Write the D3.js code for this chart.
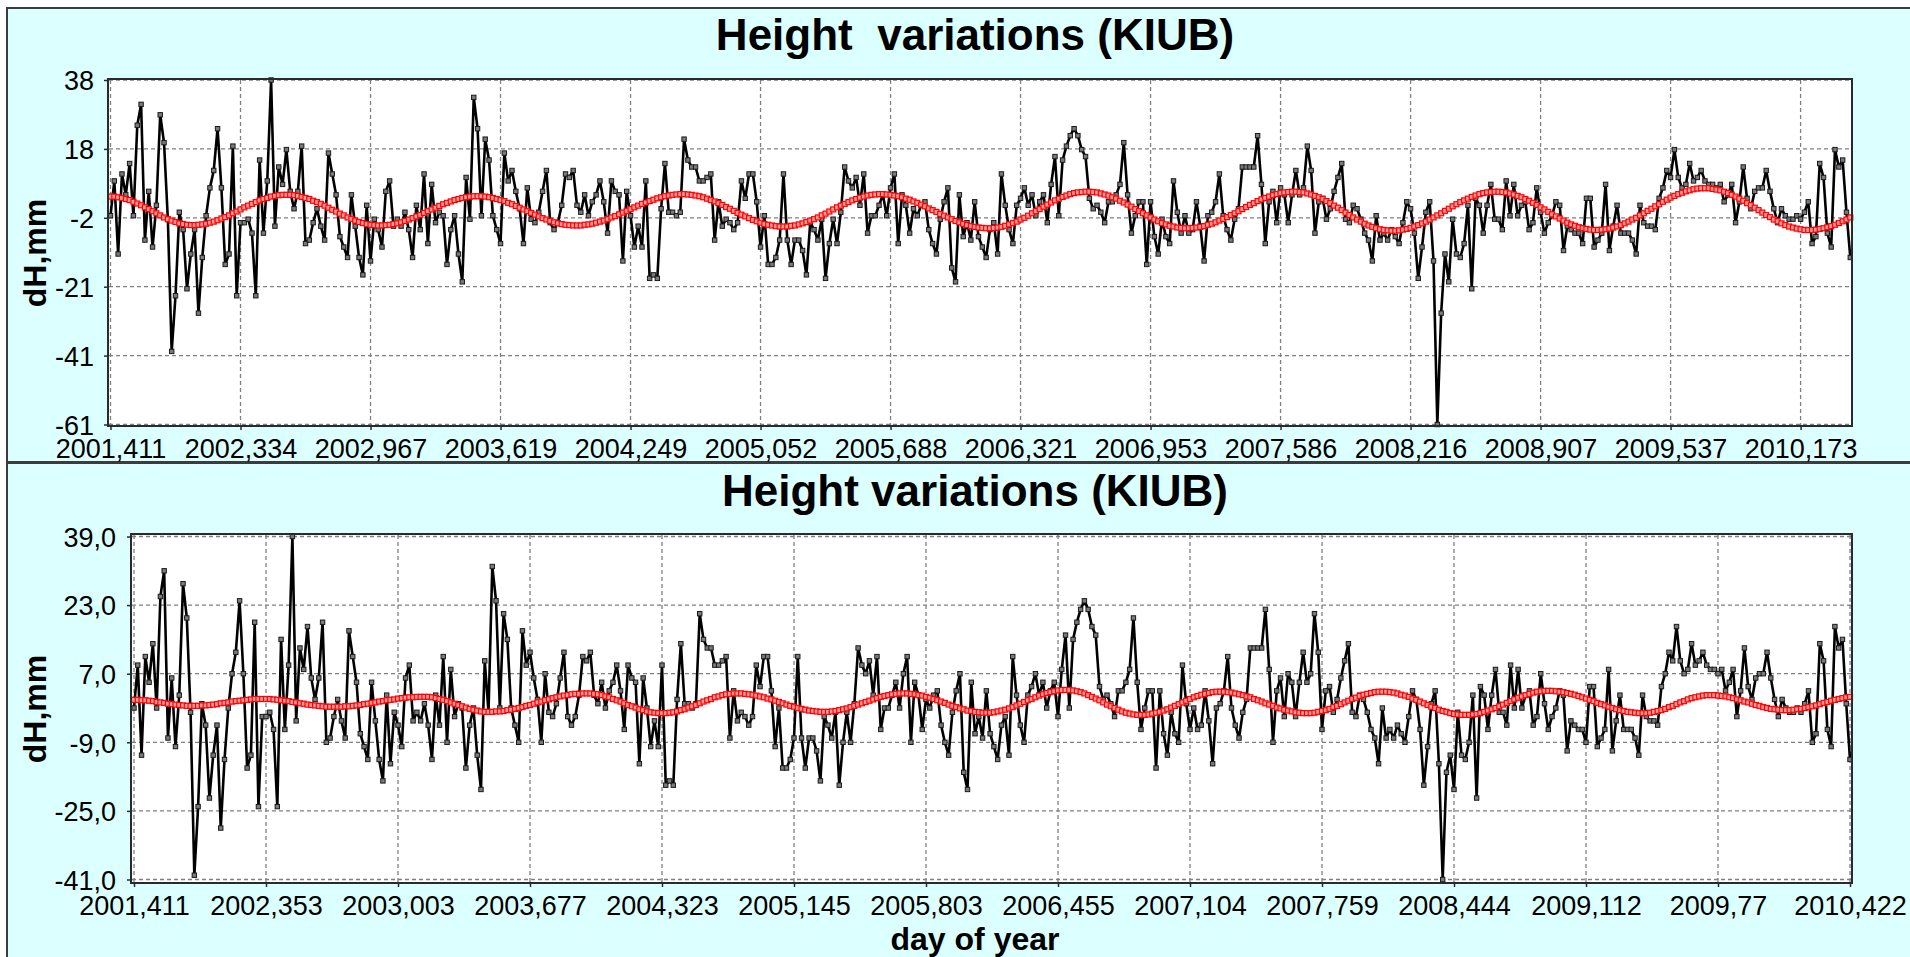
<!DOCTYPE html>
<html><head><meta charset="utf-8">
<script src="https://cdn.jsdelivr.net/npm/d3@7"></script>
<style>
html,body{margin:0;padding:0;background:#ffffff;}
svg{display:block;}
text{font-family:"Liberation Sans",Arial,sans-serif;}
</style></head><body>
<svg id="chart" width="1910" height="957"></svg>
<script>
// ---------- DATA ----------
const topValues = [
-1,9,-12,11,5,14,-1,25,31,-8,6,-10,2,28,20,-2,-40,-24,0,-5,
-22,-12,-5,-29,-13,-1,7,12,24,7,-15,-12,19,-24,-3,-3,-2,-6,-24,15,
-6,9,38,-4,13,8,18,6,1,6,19,-9,-8,-3,1,-4,-8,17,11,5,
-7,-10,-13,5,-4,-13,-18,2,-14,-2,-5,-10,6,9,-4,-2,-4,0,-5,-13,
2,-5,11,-9,8,-3,0,-1,-15,-5,-1,-12,-20,10,-2,33,24,-1,21,15,
-1,-5,-9,17,9,12,6,1,-9,7,-2,-3,0,6,12,-3,-5,-3,2,11,
10,12,2,0,5,-1,3,5,9,3,-6,9,6,5,-14,6,-1,-10,-4,-10,
9,-19,-18,-19,1,14,0,0,-1,0,21,15,13,13,9,9,10,11,-8,3,
-4,-2,-3,-5,-3,9,4,11,11,3,-10,-1,-15,-15,-13,-8,11,-8,-15,-8,
-8,-11,-18,-3,-5,-8,-2,-19,-9,-2,-9,0,13,9,7,10,2,11,-6,-1,
-1,2,5,-1,7,11,-9,5,2,-6,1,-1,2,3,-5,-9,-12,-2,3,7,
-16,-20,5,-7,-3,-8,3,-7,-10,-13,-5,-3,-12,11,2,-5,-9,2,4,7,
2,5,-1,3,5,-3,8,16,-1,15,19,22,24,22,18,16,4,1,2,0,
-3,3,3,5,8,20,5,-6,-1,3,3,-15,3,-7,-12,-2,-7,-9,9,0,
-6,-1,-6,-5,3,-4,-14,-1,0,3,11,-1,-5,-8,-2,1,13,13,13,13,
22,8,-9,3,6,-3,7,5,-3,5,12,5,7,19,12,-6,3,4,-2,1,
6,10,14,-2,-3,2,1,-2,-6,-8,-14,-1,-8,-6,-8,-5,-7,-9,-3,3,
1,-6,-19,-10,0,3,-14,-61,-29,-12,-20,-2,-12,-13,-9,2,-22,4,2,-6,
2,8,-2,-2,-5,9,-1,8,-1,2,3,-5,-3,7,0,-6,-3,-1,3,2,
-11,-4,-5,-6,-6,-9,4,4,-10,-8,-6,8,-11,-4,2,-6,-6,-6,-8,-12,
2,-3,-4,-4,-5,4,7,12,10,18,10,7,8,14,9,10,12,9,8,8,
7,8,3,5,8,-3,3,13,4,1,6,7,7,12,6,1,-3,1,-1,-2,
-2,-1,-2,0,3,-9,-7,14,10,-6,-10,18,13,15,0,-13
];
const topFit = [
4.5,4.5,4.3,4.1,3.8,3.5,3.0,2.5,2.0,1.4,0.9,0.3,-0.3,-0.9,-1.5,-2.0,-2.4,-2.8,-3.2,-3.4,-3.6,-3.7,
-3.7,-3.6,-3.5,-3.3,-3.0,-2.7,-2.3,-1.8,-1.4,-0.9,-0.3,0.2,0.8,1.4,1.9,2.4,2.9,3.4,3.8,4.1,4.5,4.7,4.9,5.0,5.0,
5.0,4.9,4.7,4.4,4.1,3.8,3.3,2.9,2.4,1.9,1.3,0.7,0.2,-0.4,-0.9,-1.5,-1.9,-2.4,-2.8,-3.1,-3.4,-3.6,-3.7,-3.8,
-3.8,-3.7,-3.6,-3.4,-3.2,-2.9,-2.5,-2.1,-1.7,-1.2,-0.8,-0.2,0.3,0.8,1.3,1.8,2.3,2.7,3.1,3.5,3.8,4.1,4.3,4.5,4.6,4.6,
4.6,4.5,4.3,4.1,3.8,3.5,3.2,2.7,2.3,1.8,1.3,0.8,0.3,-0.2,-0.7,-1.2,-1.7,-2.1,-2.5,-2.9,-3.2,-3.4,-3.6,-3.7,-3.8,
-3.8,-3.8,-3.6,-3.5,-3.3,-3.0,-2.7,-2.4,-2.0,-1.5,-1.1,-0.6,-0.1,0.4,0.9,1.4,1.9,2.4,2.8,3.2,3.6,4.0,4.3,4.6,4.8,5.0,5.1,5.2,
5.2,5.1,5.0,4.8,4.6,4.3,3.9,3.5,3.1,2.6,2.1,1.5,1.0,0.4,-0.2,-0.7,-1.2,-1.7,-2.2,-2.6,-3.0,-3.4,-3.6,-3.8,-4.0,-4.1,
-4.1,-4.1,-3.9,-3.8,-3.5,-3.2,-2.8,-2.4,-2.0,-1.5,-0.9,-0.4,0.2,0.8,1.4,1.9,2.4,2.9,3.4,3.8,4.2,4.5,4.8,5.0,5.1,5.2,
5.2,5.1,5.0,4.8,4.6,4.3,3.9,3.6,3.1,2.7,2.2,1.7,1.1,0.6,0.1,-0.5,-1.0,-1.5,-2.0,-2.5,-2.9,-3.3,-3.7,-4.0,-4.2,-4.4,-4.5,-4.6,
-4.6,-4.5,-4.4,-4.2,-3.9,-3.5,-3.1,-2.7,-2.1,-1.6,-1.0,-0.3,0.3,0.9,1.6,2.2,2.8,3.4,3.9,4.4,4.8,5.2,5.5,5.7,5.8,5.9,
5.9,5.8,5.7,5.4,5.1,4.8,4.3,3.9,3.3,2.8,2.2,1.6,0.9,0.3,-0.3,-0.9,-1.5,-2.1,-2.6,-3.1,-3.5,-3.9,-4.1,-4.4,-4.5,-4.6,
-4.6,-4.5,-4.4,-4.2,-4.0,-3.6,-3.3,-2.9,-2.4,-1.9,-1.4,-0.8,-0.3,0.3,0.9,1.5,2.1,2.6,3.2,3.7,4.1,4.5,4.9,5.2,5.5,5.7,5.8,5.9,
5.9,5.8,5.7,5.4,5.1,4.7,4.3,3.8,3.2,2.6,1.9,1.3,0.6,-0.1,-0.8,-1.5,-2.1,-2.7,-3.3,-3.8,-4.2,-4.6,-4.9,-5.1,-5.2,-5.3,
-5.3,-5.2,-5.0,-4.8,-4.5,-4.1,-3.7,-3.2,-2.7,-2.1,-1.5,-0.9,-0.3,0.4,1.0,1.7,2.3,2.9,3.4,3.9,4.4,4.8,5.2,5.5,5.7,5.8,5.9,
5.9,5.8,5.7,5.4,5.1,4.7,4.3,3.8,3.3,2.7,2.1,1.4,0.8,0.1,-0.6,-1.2,-1.8,-2.4,-3.0,-3.5,-3.9,-4.3,-4.6,-4.8,-5.0,-5.1,
-5.1,-5.0,-4.9,-4.7,-4.4,-4.1,-3.7,-3.2,-2.7,-2.1,-1.6,-0.9,-0.3,0.4,1.0,1.7,2.3,3.0,3.6,4.2,4.7,5.2,5.6,6.0,6.3,6.6,6.8,6.9,6.9,
6.9,6.7,6.5,6.3,5.9,5.5,5.0,4.5,3.9,3.3,2.6,2.0,1.3,0.6,-0.1,-0.8,-1.4,-2.1,-2.6,-3.2,-3.7,-4.1,-4.4,-4.7,-4.9,-5.1,-5.1,
-5.1,-5.0,-4.8,-4.6,-4.3,-4.0,-3.6,-3.1,-2.6,-2.1,-1.5
];
const bottomValues = [
-1,9,-12,11,5,14,-1,25,31,-8,6,-10,2,28,20,-2,-40,-24,0,-5,
-22,-12,-5,-29,-13,-1,7,12,24,7,-15,-12,19,-24,-3,-3,-2,-6,-24,15,
-6,9,39,-4,13,8,18,6,1,6,19,-9,-8,-3,1,-4,-8,17,11,5,
-7,-10,-13,5,-4,-13,-18,2,-14,-2,-5,-10,6,9,-4,-2,-4,0,-5,-13,
2,-5,11,-9,8,-3,0,-1,-15,-5,-1,-12,-20,10,-2,32,24,-1,21,15,
-1,-5,-9,17,9,12,6,1,-9,7,-2,-3,0,6,12,-3,-5,-3,2,11,
10,12,2,0,5,-1,3,5,9,3,-6,9,6,5,-14,6,-1,-10,-4,-10,
9,-19,-18,-19,1,14,0,0,-1,0,21,15,13,13,9,9,10,11,-8,3,
-4,-2,-3,-5,-3,9,4,11,11,3,-10,-1,-15,-15,-13,-8,11,-8,-15,-8,
-8,-11,-18,-3,-5,-8,-2,-19,-9,-2,-9,0,13,9,7,10,2,11,-6,-1,
-1,2,5,-1,7,11,-9,5,2,-6,1,-1,2,3,-5,-9,-12,-2,3,7,
-16,-20,5,-7,-3,-8,3,-7,-10,-13,-5,-3,-12,11,2,-5,-9,2,4,7,
2,5,-1,3,5,-3,8,16,-1,15,19,22,24,22,18,16,4,1,2,0,
-3,3,3,5,8,20,5,-6,-1,3,3,-15,3,-7,-12,-2,-7,-9,9,0,
-6,-1,-6,-5,3,-4,-14,-1,0,3,11,-1,-5,-8,-2,1,13,13,13,13,
22,8,-9,3,6,-3,7,5,-3,5,12,5,7,21,12,-6,3,4,-2,1,
6,10,14,-2,-3,2,1,-2,-6,-8,-14,-1,-8,-6,-8,-5,-7,-9,-3,3,
1,-6,-19,-10,0,3,-14,-41,-16,-12,-20,-2,-12,-13,-9,2,-22,4,2,-6,
2,8,-2,-2,-5,9,-1,8,-1,2,3,-5,-3,7,0,-6,-3,-1,3,2,
-11,-4,-5,-6,-6,-9,4,4,-10,-8,-6,8,-11,-4,2,-6,-6,-6,-8,-12,
2,-3,-4,-4,-5,4,7,12,10,18,10,7,8,14,9,10,12,9,8,8,
7,8,3,5,8,-3,3,13,4,1,6,7,7,12,6,1,-3,1,-1,-2,
-2,-1,-2,0,3,-9,-7,14,10,-6,-10,18,13,15,0,-13
];
const bottomFit = [
0.9,0.9,0.8,0.8,0.7,0.6,0.4,0.3,0.2,0.0,-0.1,-0.2,-0.3,-0.4,-0.5,-0.5,
-0.5,-0.5,-0.4,-0.4,-0.3,-0.2,-0.1,0.1,0.2,0.3,0.5,0.6,0.7,0.8,0.9,1.0,1.1,1.1,1.1,
1.1,1.1,1.0,0.9,0.8,0.7,0.6,0.4,0.3,0.1,0.0,-0.2,-0.3,-0.4,-0.5,-0.6,-0.7,-0.7,-0.7,
-0.7,-0.7,-0.6,-0.6,-0.5,-0.4,-0.3,-0.1,0.0,0.2,0.3,0.5,0.6,0.8,0.9,1.0,1.2,1.3,1.4,1.5,1.5,1.6,1.6,1.6,
1.6,1.5,1.3,1.1,0.9,0.6,0.3,0.0,-0.3,-0.6,-0.9,-1.2,-1.4,-1.6,-1.8,-1.9,-1.9,
-1.9,-1.8,-1.8,-1.7,-1.5,-1.4,-1.2,-1.0,-0.8,-0.5,-0.3,0.0,0.3,0.5,0.8,1.0,1.3,1.5,1.7,1.9,2.0,2.2,2.3,2.3,2.4,2.4,
2.4,2.3,2.2,2.0,1.7,1.5,1.1,0.8,0.5,0.1,-0.3,-0.6,-0.9,-1.3,-1.5,-1.8,-2.0,-2.1,-2.2,-2.2,
-2.2,-2.1,-2.0,-1.8,-1.5,-1.3,-0.9,-0.6,-0.3,0.1,0.5,0.8,1.1,1.5,1.7,2.0,2.2,2.3,2.4,2.4,
2.4,2.3,2.2,2.1,1.9,1.7,1.5,1.2,1.0,0.7,0.4,0.1,-0.2,-0.5,-0.7,-1.0,-1.2,-1.4,-1.6,-1.7,-1.8,-1.9,-1.9,
-1.9,-1.8,-1.7,-1.5,-1.3,-1.1,-0.8,-0.5,-0.2,0.1,0.4,0.7,1.0,1.3,1.6,1.8,2.0,2.2,2.3,2.4,2.4,
2.4,2.3,2.2,2.0,1.9,1.6,1.4,1.1,0.8,0.5,0.2,-0.2,-0.5,-0.8,-1.1,-1.3,-1.6,-1.7,-1.9,-2.0,-2.1,-2.1,
-2.1,-2.0,-1.8,-1.6,-1.4,-1.1,-0.8,-0.4,0.0,0.4,0.8,1.1,1.5,1.9,2.2,2.5,2.7,2.9,3.1,3.2,3.2,
3.2,3.1,2.9,2.7,2.4,2.0,1.6,1.2,0.8,0.3,-0.2,-0.6,-1.0,-1.4,-1.8,-2.1,-2.3,-2.5,-2.6,-2.6,
-2.6,-2.5,-2.3,-2.1,-1.9,-1.6,-1.3,-0.9,-0.5,-0.1,0.3,0.7,1.1,1.5,1.8,2.1,2.3,2.5,2.7,2.8,2.8,
2.8,2.7,2.6,2.4,2.2,2.0,1.7,1.5,1.1,0.8,0.5,0.1,-0.2,-0.5,-0.9,-1.1,-1.4,-1.6,-1.8,-2.0,-2.1,-2.2,-2.2,
-2.2,-2.1,-1.9,-1.7,-1.5,-1.2,-0.8,-0.5,-0.1,0.3,0.7,1.1,1.4,1.8,2.1,2.3,2.5,2.7,2.8,2.8,
2.8,2.7,2.6,2.4,2.1,1.9,1.6,1.2,0.9,0.5,0.1,-0.3,-0.7,-1.0,-1.4,-1.7,-1.9,-2.2,-2.4,-2.5,-2.6,-2.6,
-2.6,-2.5,-2.4,-2.2,-1.9,-1.6,-1.3,-1.0,-0.6,-0.2,0.2,0.6,1.0,1.4,1.7,2.0,2.3,2.6,2.8,2.9,3.0,3.0,
3.0,2.9,2.8,2.7,2.5,2.3,2.1,1.8,1.5,1.2,0.9,0.6,0.2,-0.1,-0.4,-0.7,-1.0,-1.3,-1.5,-1.7,-1.9,-2.0,-2.1,-2.2,-2.2,
-2.2,-2.1,-1.9,-1.7,-1.5,-1.2,-0.8,-0.5,-0.1,0.3,0.6,1.0,1.3,1.5,1.7,1.9,2.0,2.0,
2.0,1.9,1.8,1.7,1.5,1.3,1.0,0.8,0.5,0.3,0.0,-0.3,-0.5,-0.8,-1.0,-1.2,-1.3,-1.4,-1.5,-1.5,
-1.5,-1.4,-1.3,-1.2,-1.0,-0.8,-0.6,-0.4,-0.1,0.2,0.4,0.7,0.9,1.1,1.3,1.5,1.6
];
const topXTickIndex = [0,34,68,102,136,170,204,238,272,306,340,374,408,442];
const topXTickLabels = ["2001,411","2002,334","2002,967","2003,619","2004,249","2005,052","2005,688","2006,321","2006,953","2007,586","2008,216","2008,907","2009,537","2010,173"];
const bottomXTickIndex = [0,35,70,105,140,175,210,245,280,315,350,385,420,455];
const bottomXTickLabels = ["2001,411","2002,353","2003,003","2003,677","2004,323","2005,145","2005,803","2006,455","2007,104","2007,759","2008,444","2009,112","2009,77","2010,422"];
const topYTickLabels = ["-61","-41","-21","-2","18","38"];
const bottomYTickLabels = ["-41,0","-25,0","-9,0","7,0","23,0","39,0"];
const titleTop = "Height  variations (KIUB)";
const titleBottom = "Height variations (KIUB)";
const yAxisTitle = "dH,mm";
const xAxisTitle = "day of year";

// ---------- DRAWING ----------
const svg = d3.select("#chart");
const panelFill = "#dcffff";

svg.append("rect").attr("x", 7).attr("y", 8).attr("width", 1920).attr("height", 454)
  .attr("fill", panelFill).attr("stroke", "#3c3c3c").attr("stroke-width", 2);
svg.append("rect").attr("x", 7).attr("y", 463).attr("width", 1920).attr("height", 520)
  .attr("fill", panelFill).attr("stroke", "#3c3c3c").attr("stroke-width", 2);

function drawPanel(cfg) {
  const g = svg.append("g");
  const f = cfg.frame;
  const n = cfg.values.length;
  const x = d3.scaleLinear().domain([0, n - 1]).range(cfg.xRange);
  const ext = d3.extent(cfg.values);
  const y = d3.scaleLinear().domain(ext).range(cfg.yRange);
  const yTicks = d3.range(cfg.yLabels.length).map(k => ext[0] + k * (ext[1] - ext[0]) / (cfg.yLabels.length - 1));

  g.append("rect").attr("x", f.x0).attr("y", f.y0).attr("width", f.x1 - f.x0).attr("height", f.y1 - f.y0)
    .attr("fill", "#ffffff");

  // grid
  const grid = g.append("g").attr("stroke", "#808080").attr("stroke-width", 1.3).attr("stroke-dasharray", "4,3");
  grid.selectAll("line.h").data(yTicks).join("line").attr("class", "h")
    .attr("x1", f.x0 + 1).attr("x2", f.x1 - 1).attr("y1", d => y(d)).attr("y2", d => y(d));
  grid.selectAll("line.v").data(cfg.xTicks).join("line").attr("class", "v")
    .attr("y1", f.y0 + 1).attr("y2", f.y1 - 1).attr("x1", d => x(d)).attr("x2", d => x(d));

  // black series
  const line = d3.line().x((d, i) => x(i)).y(d => y(d));
  g.append("path").datum(cfg.values).attr("d", line).attr("fill", "none")
    .attr("stroke", "#000").attr("stroke-width", 2.6).attr("stroke-linejoin", "round");
  g.append("g").selectAll("rect").data(cfg.values).join("rect")
    .attr("x", (d, i) => x(i) - 2.2).attr("y", d => y(d) - 2.2).attr("width", 4.4).attr("height", 4.4)
    .attr("fill", "#7a7a7a").attr("stroke", "#1a1a1a").attr("stroke-width", 1);

  // red fit
  g.append("path").datum(cfg.fit).attr("d", line).attr("fill", "none")
    .attr("stroke", "#ff0000").attr("stroke-width", 2.2);
  g.append("g").selectAll("rect").data(cfg.fit).join("rect")
    .attr("x", (d, i) => x(i) - 2.5).attr("y", d => y(d) - 2.5).attr("width", 5).attr("height", 5)
    .attr("fill", "#ff9a9a").attr("stroke", "#ff0000").attr("stroke-width", 1.2);

  // frame
  g.append("rect").attr("x", f.x0).attr("y", f.y0).attr("width", f.x1 - f.x0).attr("height", f.y1 - f.y0)
    .attr("fill", "none").attr("stroke", "#2a2a2a").attr("stroke-width", 2);

  // axes
  const yAxis = d3.axisLeft(y).tickValues(yTicks).tickFormat((d, i) => cfg.yLabels[i])
    .tickSize(4).tickPadding(cfg.yPad);
  const ya = g.append("g").attr("transform", `translate(${f.x0},0)`).call(yAxis);
  const xAxis = d3.axisBottom(x).tickValues(cfg.xTicks).tickFormat((d, i) => cfg.xLabels[i])
    .tickSize(4).tickPadding(9.5);
  const xa = g.append("g").attr("transform", `translate(0,${f.y1})`).call(xAxis);
  [ya, xa].forEach(a => {
    a.select(".domain").remove();
    a.selectAll(".tick line").attr("stroke", "#2a2a2a").attr("stroke-width", 1.5);
    a.selectAll(".tick text").attr("fill", "#000").style("font-size", "27px")
      .style("font-family", '"Liberation Sans", Arial, sans-serif');
  });
  ya.selectAll(".tick text").attr("dy", "0.36em");
  xa.selectAll(".tick text").attr("dy", "0.68em");

  // titles
  g.append("text").attr("x", 975).attr("y", cfg.titleY).attr("text-anchor", "middle")
    .style("font-size", "44px").style("font-weight", "bold").style("white-space", "pre")
    .text(cfg.title);
  g.append("text").attr("transform", `translate(46,${cfg.yTitleY}) rotate(-90)`).attr("text-anchor", "middle")
    .style("font-size", "32px").style("font-weight", "bold").text(yAxisTitle);
  if (cfg.xTitle) {
    g.append("text").attr("x", 975).attr("y", 950).attr("text-anchor", "middle")
      .style("font-size", "32px").style("font-weight", "bold").text(cfg.xTitle);
  }
}

drawPanel({
  values: topValues, fit: topFit,
  frame: {x0: 108, y0: 79, x1: 1852, y1: 426},
  xRange: [110.5, 1850.3], yRange: [424.5, 80],
  xTicks: topXTickIndex, xLabels: topXTickLabels, yLabels: topYTickLabels,
  yPad: 10, title: titleTop, titleY: 50, yTitleY: 253
});
drawPanel({
  values: bottomValues, fit: bottomFit,
  frame: {x0: 131, y0: 534, x1: 1852, y1: 883},
  xRange: [134, 1850], yRange: [879.5, 536.5],
  xTicks: bottomXTickIndex, xLabels: bottomXTickLabels, yLabels: bottomYTickLabels,
  yPad: 11, title: titleBottom, titleY: 506, yTitleY: 709, xTitle: xAxisTitle
});
</script>
</body></html>
